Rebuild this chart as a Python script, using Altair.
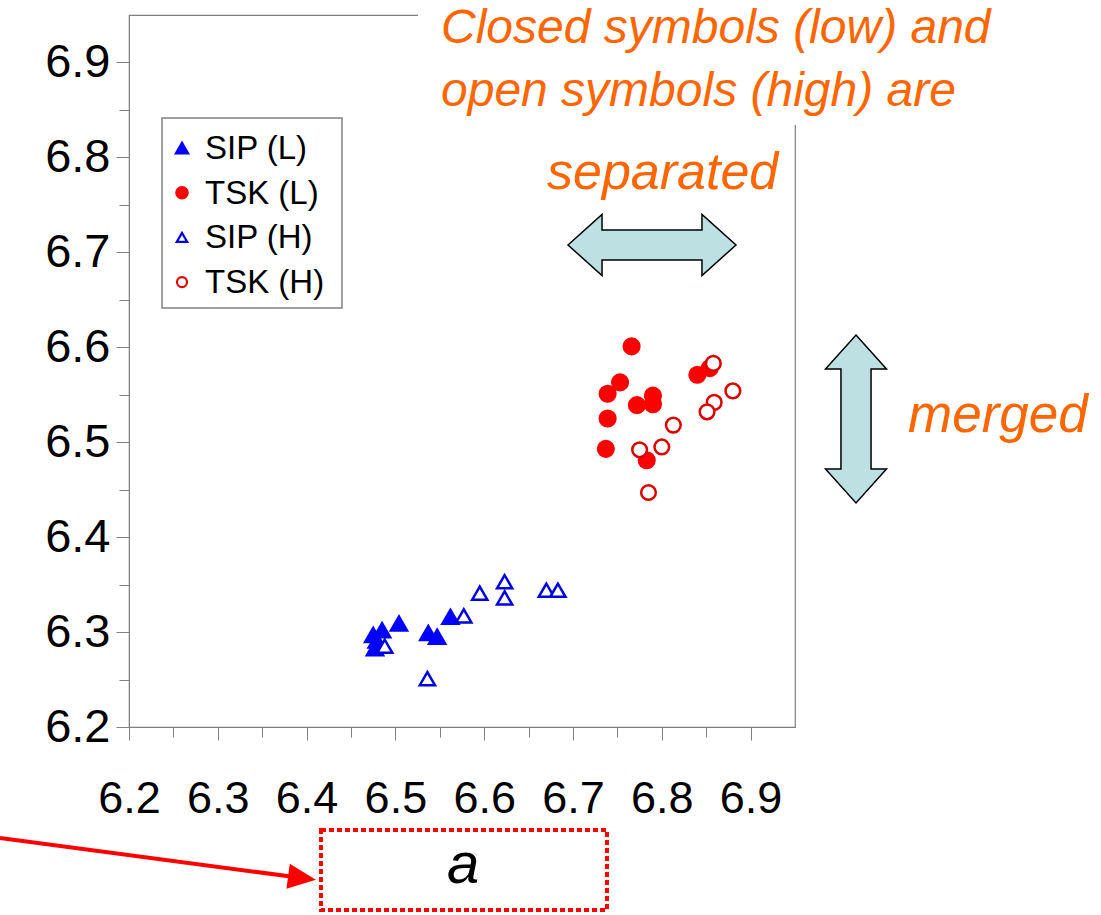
import altair as alt
import pandas as pd

# Lattice constants a (x) and c (y) for the two groups, low / high
series_names = ["SIP (L)", "TSK (L)", "SIP (H)", "TSK (H)"]

sip_low_x = [6.475, 6.485, 6.477, 6.479, 6.504, 6.537, 6.547, 6.562]
sip_low_y = [6.297, 6.302, 6.283, 6.291, 6.309, 6.299, 6.295, 6.316]

tsk_low_x = [6.766, 6.753, 6.739, 6.739, 6.737, 6.772, 6.790, 6.790, 6.783, 6.840, 6.854]
tsk_low_y = [6.601, 6.563, 6.551, 6.525, 6.493, 6.539, 6.549, 6.540, 6.481, 6.571, 6.578]

sip_high_x = [6.488, 6.577, 6.595, 6.623, 6.623, 6.670, 6.683, 6.536]
sip_high_y = [6.285, 6.317, 6.341, 6.353, 6.336, 6.344, 6.344, 6.251]

tsk_high_x = [6.858, 6.880, 6.859, 6.851, 6.813, 6.800, 6.775, 6.785]
tsk_high_y = [6.583, 6.554, 6.542, 6.532, 6.518, 6.495, 6.492, 6.447]

major_ticks = [6.2, 6.3, 6.4, 6.5, 6.6, 6.7, 6.8, 6.9]
minor_ticks = [6.25, 6.35, 6.45, 6.55, 6.65, 6.75, 6.85]

series_shapes = ["triangle-up", "circle", "triangle-up", "circle"]
series_fills = ["#0000ff", "#ff0000", "white", "white"]
series_strokes = ["#0000ff", "#ff0000", "#0000e0", "#dd0000"]
series_sizes = [260, 215, 240, 200]

frames = []
for name, xs, ys in [
    (series_names[0], sip_low_x, sip_low_y),
    (series_names[1], tsk_low_x, tsk_low_y),
    (series_names[2], sip_high_x, sip_high_y),
    (series_names[3], tsk_high_x, tsk_high_y),
]:
    frames.append(pd.DataFrame({"series": name, "a": xs, "c": ys}))
df = pd.concat(frames, ignore_index=True)

FONT = "Liberation Sans"
GRAY = "#808080"
ORANGE = "#ff6600"

xscale = alt.Scale(domain=[6.2, 6.95], nice=False, zero=False)
yscale = alt.Scale(domain=[6.2, 6.95], nice=False, zero=False)

points = alt.Chart(df).mark_point(strokeWidth=2.5, opacity=1).encode(
    x=alt.X("a:Q", scale=xscale, title=None,
            axis=alt.Axis(values=major_ticks, format=".1f", orient="bottom",
                          labelFont=FONT, labelFontSize=45, labelColor="black",
                          labelPadding=36, labelFlush=False, tickSize=13,
                          tickColor=GRAY, domainColor=GRAY, grid=False)),
    y=alt.Y("c:Q", scale=yscale, title=None,
            axis=alt.Axis(values=major_ticks, format=".1f", orient="left",
                          labelFont=FONT, labelFontSize=47, labelColor="black",
                          labelPadding=6, labelFlush=False, tickSize=13,
                          tickColor=GRAY, domainColor=GRAY, grid=False)),
    shape=alt.Shape("series:N", scale=alt.Scale(domain=series_names, range=series_shapes),
                    legend=None),
    fill=alt.Fill("series:N", scale=alt.Scale(domain=series_names, range=series_fills),
                  legend=None),
    stroke=alt.Stroke("series:N", scale=alt.Scale(domain=series_names, range=series_strokes),
                      legend=None),
    size=alt.Size("series:N", scale=alt.Scale(domain=series_names, range=series_sizes),
                  legend=None),
)

# Minor ticks on both axes
minor = alt.Chart(df).mark_point(opacity=0).encode(
    x=alt.X("a:Q", scale=xscale, title=None,
            axis=alt.Axis(values=minor_ticks, orient="bottom", labels=False,
                          tickSize=10, tickColor=GRAY, domain=False, grid=False)),
    y=alt.Y("c:Q", scale=yscale, title=None,
            axis=alt.Axis(values=minor_ticks, orient="left", labels=False,
                          tickSize=10, tickColor=GRAY, domain=False, grid=False)),
)

one = alt.Data(values=[{}])

# Legend box, symbols and labels
legend_layers = [
    alt.Chart(one).mark_rect(fill="white", stroke=GRAY, strokeWidth=1.5).encode(
        x=alt.value(33), x2=alt.value(213), y=alt.value(103), y2=alt.value(293)
    )
]
legend_sizes = [150, 130, 110, 100]
for i, name in enumerate(series_names):
    row_y = 133 + 44.7 * i
    legend_layers.append(
        alt.Chart(one).mark_point(
            shape=series_shapes[i], fill=series_fills[i], stroke=series_strokes[i],
            strokeWidth=2.2, size=legend_sizes[i], filled=True, opacity=1,
        ).encode(x=alt.value(53), y=alt.value(row_y))
    )
    legend_layers.append(
        alt.Chart(alt.Data(values=[{"t": name}])).mark_text(
            font=FONT, fontSize=33, color="black", align="left", baseline="middle",
        ).encode(text="t:N", x=alt.value(76), y=alt.value(row_y + 1))
    )

# White panel behind the note in the upper right
panel = alt.Chart(one).mark_rect(color="white").encode(
    x=alt.value(289), x2=alt.value(972), y=alt.value(-15), y2=alt.value(110)
)

def note(text, x, y, size):
    return alt.Chart(alt.Data(values=[{"t": text}])).mark_text(
        font=FONT, fontStyle="italic", fontSize=size, color=ORANGE,
        align="left", baseline="alphabetic",
    ).encode(text="t:N", x=alt.value(x), y=alt.value(y))

note1 = note("Closed symbols (low) and", 312, 28, 48)
note2 = note("open symbols (high) are", 312, 91, 48)
note3 = note("separated", 418, 174, 52)
note4 = note("merged", 779, 417, 53)

arrow_path = ("M-1,0 L-0.595,-0.363 L-0.595,-0.179 L0.595,-0.179 L0.595,-0.363 "
              "L1,0 L0.595,0.363 L0.595,0.179 L-0.595,0.179 L-0.595,0.363 Z")

h_arrow = alt.Chart(one).mark_point(
    shape=arrow_path, size=28224, filled=True, fill="#bde0e3",
    stroke="black", strokeWidth=1.5, opacity=1,
).encode(x=alt.value(523), y=alt.value(230))

v_arrow = alt.Chart(one).mark_point(
    shape=arrow_path, size=28224, filled=True, fill="#bde0e3",
    stroke="black", strokeWidth=1.5, opacity=1, angle=90,
).encode(x=alt.value(727), y=alt.value(404))

# Pointer to the axis label box
pointer = alt.Chart(one).mark_rule(color="red", strokeWidth=4).encode(
    x=alt.value(-129), y=alt.value(823), x2=alt.value(173), y2=alt.value(863)
)
pointer_head = alt.Chart(one).mark_point(
    shape="M1,0 L-1,-0.9 L-1,0.9 Z", size=784, filled=True,
    color="red", opacity=1, angle=7.5,
).encode(x=alt.value(173), y=alt.value(863))

label_box = alt.Chart(one).mark_rect(
    fill="white", fillOpacity=0, stroke="red", strokeWidth=4, strokeDash=[5, 3]
).encode(x=alt.value(192), x2=alt.value(478), y=alt.value(815), y2=alt.value(895))

label_a = alt.Chart(alt.Data(values=[{"t": "a"}])).mark_text(
    font=FONT, fontStyle="italic", fontSize=58, color="black",
    align="center", baseline="alphabetic",
).encode(text="t:N", x=alt.value(334), y=alt.value(868))

chart = alt.layer(
    minor, points, *legend_layers, panel, note1, note2, note3, note4,
    h_arrow, v_arrow, pointer, pointer_head, label_box, label_a,
).resolve_axis(x="independent", y="independent").properties(
    width=666, height=712,
    padding={"left": 129, "top": 15, "right": 306, "bottom": 188},
    autosize=alt.AutoSizeParams(type="none"),
    background="white",
).configure_view(stroke=GRAY, strokeWidth=1.2)

chart.save("out.html", embed_options={"renderer": "svg", "actions": False})
